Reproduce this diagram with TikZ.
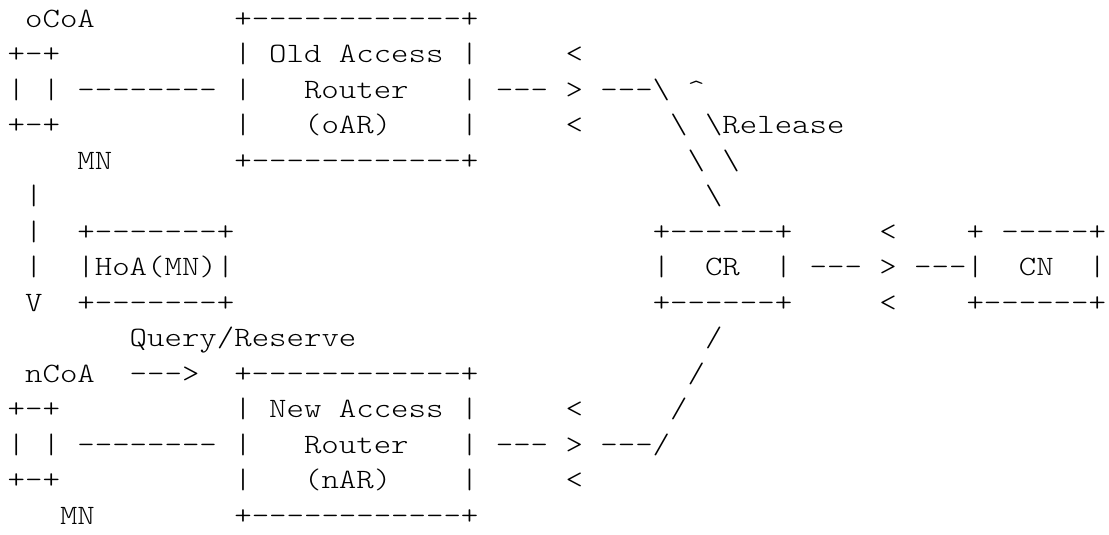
\documentclass[tikz,border=0pt]{standalone}
\usepackage{fontspec}
\setmonofont{lmmonolt10-regular}[Extension=.otf, FakeStretch=1.186]
\newcommand\bs{\textbackslash}
\newcommand\hatc{\textasciicircum}
\newlength\cw
\newcommand\setcw{\settowidth\cw{M}}
\newcommand\sk[1]{\hskip#1\cw\relax}
\begin{document}
\begin{tikzpicture}[x=1pt,y=1pt,
  asciiline/.style={anchor=base west, inner sep=0pt, outer sep=0pt,
    font=\ttfamily\fontsize{28}{35.5}\selectfont\frenchspacing\setcw, text=black}]
\useasboundingbox (0,0) rectangle (1109,535);
\node[asciiline] (l1)  at (7.7,507.5) {\sk{1}oCoA\sk{8}+------------+};
\node[asciiline] (l2)  at (7.7,472)   {+-+\sk{10}|\sk{1}Old\sk{1}Access\sk{1}|\sk{5}<};
\node[asciiline] (l3)  at (7.7,436.5) {|\sk{1}|\sk{1}--------\sk{1}|\sk{3}Router\sk{3}|\sk{1}---\sk{1}>\sk{1}---\bs\sk{1}\hatc};
\node[asciiline] (l4)  at (7.7,401)   {+-+\sk{10}|\sk{3}(oAR)\sk{4}|\sk{5}<\sk{5}\bs\sk{1}\bs{}Release};
\node[asciiline] (l5)  at (7.7,365.5) {\sk{4}MN\sk{7}+------------+\sk{12}\bs\sk{1}\bs};
\node[asciiline] (l6)  at (7.7,330)   {\sk{1}|\sk{38}\bs};
\node[asciiline] (l7)  at (7.7,294.5) {\sk{1}|\sk{2}+-------+\sk{24}+------+\sk{5}<\sk{4}+\sk{1}-----+};
\node[asciiline] (l8)  at (7.7,259)   {\sk{1}|\sk{2}|HoA(MN)|\sk{24}|\sk{2}CR\sk{2}|\sk{1}---\sk{1}>\sk{1}---|\sk{2}CN\sk{2}|};
\node[asciiline] (l9)  at (7.7,223.5) {\sk{1}V\sk{2}+-------+\sk{24}+------+\sk{5}<\sk{4}+------+};
\node[asciiline] (l10) at (7.7,188)   {\sk{7}Query/Reserve\sk{20}/};
\node[asciiline] (l11) at (7.7,152.5) {\sk{1}nCoA\sk{2}--->\sk{2}+------------+\sk{12}/};
\node[asciiline] (l12) at (7.7,117)   {+-+\sk{10}|\sk{1}New\sk{1}Access\sk{1}|\sk{5}<\sk{5}/};
\node[asciiline] (l13) at (7.7,81.5)  {|\sk{1}|\sk{1}--------\sk{1}|\sk{3}Router\sk{3}|\sk{1}---\sk{1}>\sk{1}---/};
\node[asciiline] (l14) at (7.7,46)    {+-+\sk{10}|\sk{3}(nAR)\sk{4}|\sk{5}<};
\node[asciiline] (l15) at (7.7,10.5)  {\sk{3}MN\sk{8}+------------+};
\end{tikzpicture}
\end{document}
